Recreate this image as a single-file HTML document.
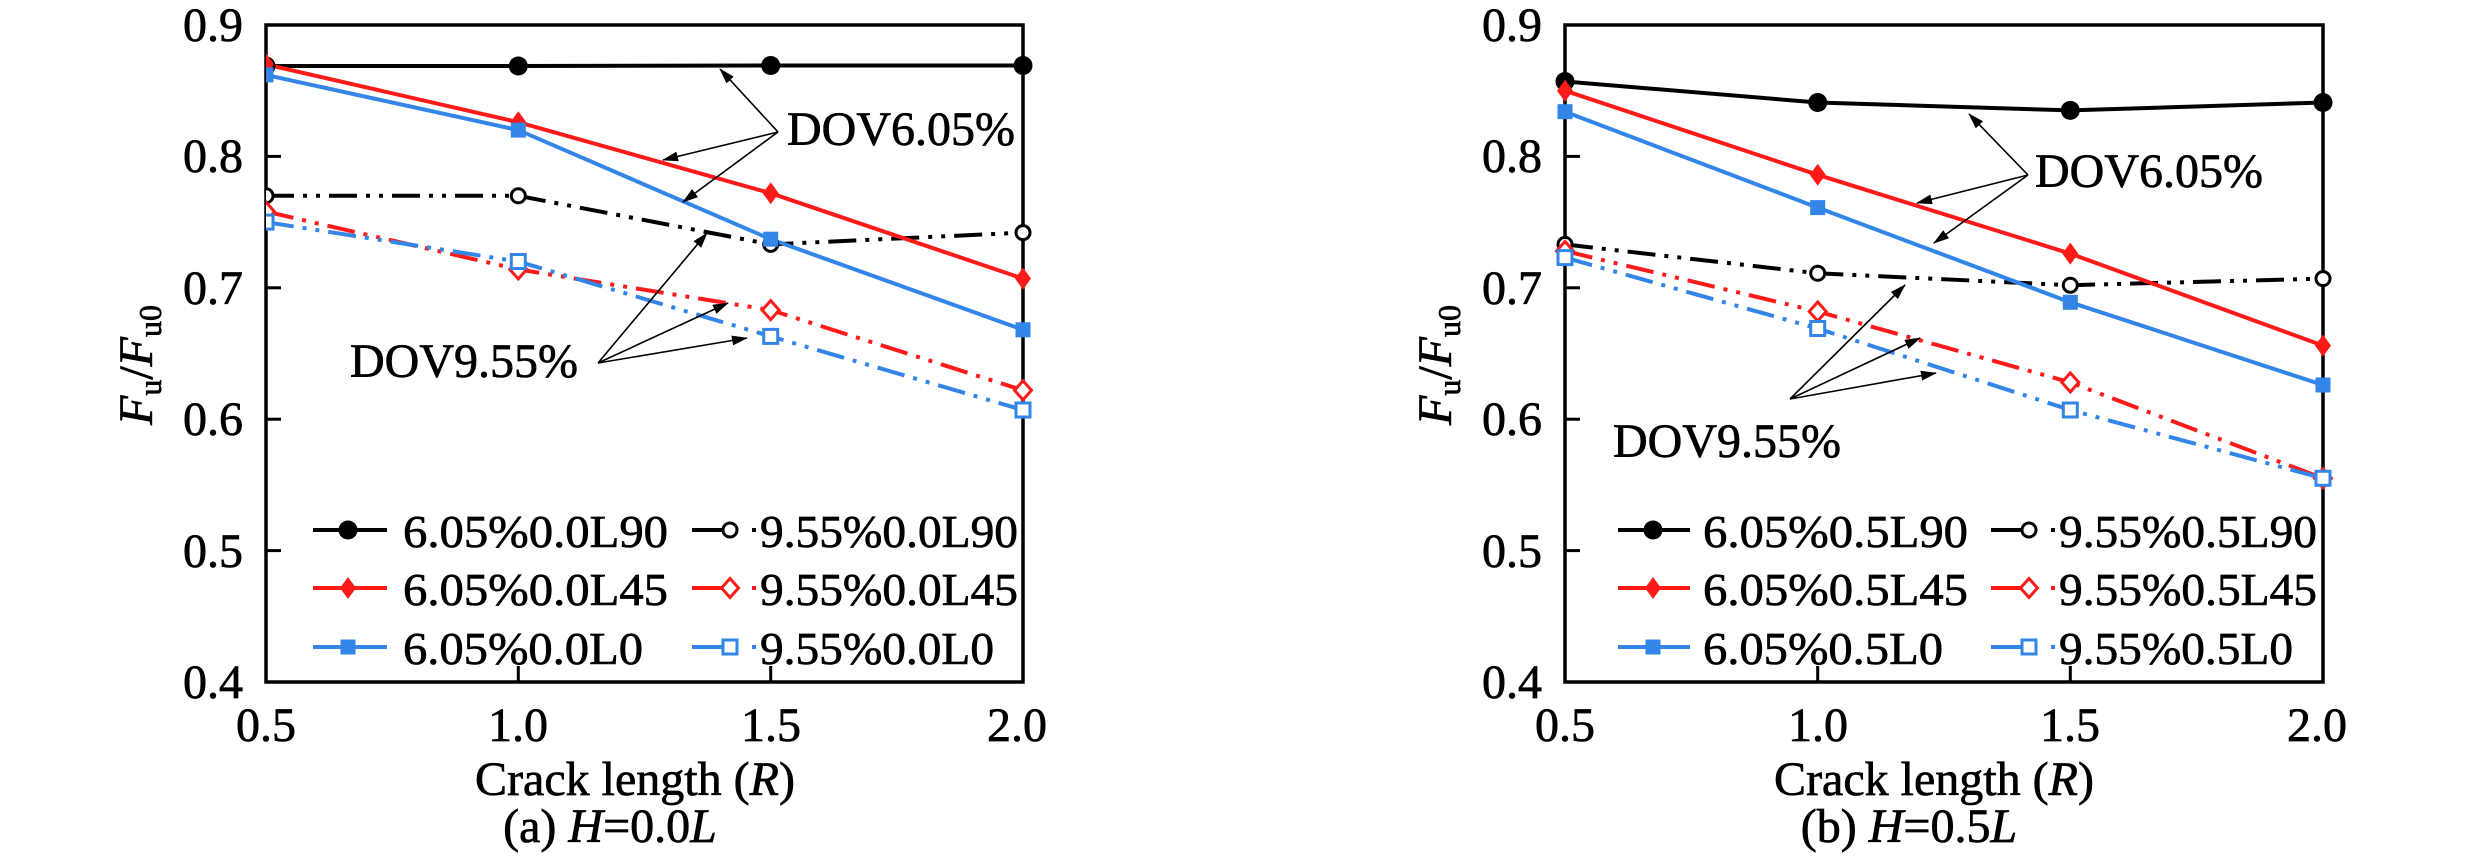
<!DOCTYPE html>
<html>
<head>
<meta charset="utf-8">
<style>
html,body{margin:0;padding:0;background:#fff;font-family:"Liberation Serif","Times New Roman",serif;}
svg{display:block;}
svg text, svg tspan{font-family:"Liberation Serif","Times New Roman",serif;}
text{fill:#000;stroke:#000;stroke-width:0.7px;}
</style>
</head>
<body>
<svg width="2482" height="867" viewBox="0 0 2482 867" xmlns="http://www.w3.org/2000/svg" font-family="Liberation Serif, Times New Roman, serif">
<defs>
  <marker id="ah" viewBox="0 0 16 10" refX="15" refY="5" markerWidth="16" markerHeight="10" markerUnits="userSpaceOnUse" orient="auto">
    <path d="M0,0 L16,5 L0,10 Z" fill="#000"/>
  </marker>
  <circle id="fc" r="9.5" fill="#000"/>
  <polygon id="fd" points="0,-11 8,0 0,11 -8,0" fill="#ff1a1a"/>
  <rect id="fs" x="-7.5" y="-7.5" width="15" height="15" fill="#3385e8"/>
  <circle id="oc" r="7" fill="#fff" stroke="#000" stroke-width="3"/>
  <polygon id="od" points="0,-9.5 8.5,0 0,9.5 -8.5,0" fill="#fff" stroke="#ff1a1a" stroke-width="3"/>
  <rect id="os" x="-7" y="-7" width="14" height="14" fill="#fff" stroke="#3385e8" stroke-width="3"/>
  <clipPath id="clipL"><rect x="266" y="0" width="900" height="867"/></clipPath>
</defs>

<!-- ================= LEFT PLOT ================= -->
<g>
  <g font-size="48" text-anchor="end">
    <text x="243" y="41"><tspan>0.9</tspan></text>
    <text x="243" y="172"><tspan>0.8</tspan></text>
    <text x="243" y="304"><tspan>0.7</tspan></text>
    <text x="243" y="435"><tspan>0.6</tspan></text>
    <text x="243" y="567"><tspan>0.5</tspan></text>
    <text x="243" y="698"><tspan>0.4</tspan></text>
  </g>
  <g font-size="48" text-anchor="middle">
    <text x="266" y="741"><tspan>0.5</tspan></text>
    <text x="518" y="741"><tspan>1.0</tspan></text>
    <text x="771" y="741"><tspan>1.5</tspan></text>
    <text x="1017" y="741"><tspan>2.0</tspan></text>
  </g>
  <text x="635" y="795" font-size="48" text-anchor="middle"><tspan>Crack length (</tspan><tspan font-style="italic">R</tspan><tspan>)</tspan></text>
  <text x="610" y="842" font-size="48" text-anchor="middle"><tspan>(a) </tspan><tspan font-style="italic">H</tspan><tspan>=0.0</tspan><tspan font-style="italic">L</tspan></text>
  <text transform="translate(152,365) rotate(-90)" font-size="48" text-anchor="middle"><tspan font-style="italic">F</tspan><tspan font-size="32" dy="9">u</tspan><tspan dy="-9">/</tspan><tspan font-style="italic">F</tspan><tspan font-size="32" dy="9">u0</tspan></text>

  <rect x="266" y="25" width="757" height="657" fill="none" stroke="#000" stroke-width="3.5"/>
  <g stroke="#000" stroke-width="3">
    <line x1="266" y1="156.4" x2="281" y2="156.4"/>
    <line x1="266" y1="287.8" x2="281" y2="287.8"/>
    <line x1="266" y1="419.2" x2="281" y2="419.2"/>
    <line x1="266" y1="550.6" x2="281" y2="550.6"/>
    <line x1="518.3" y1="682" x2="518.3" y2="666"/>
    <line x1="770.7" y1="682" x2="770.7" y2="666"/>
  </g>

  <g clip-path="url(#clipL)">
  <g fill="none" stroke-width="4" stroke-dasharray="28 9 4 9 4 9">
    <polyline stroke="#000" points="266,195.8 518.3,195.8 770.7,244.4 1023,232.6"/>
    <polyline stroke="#ff1a1a" points="266,211.6 518.3,269.4 770.7,310.1 1023,390.3"/>
    <polyline stroke="#3385e8" points="266,222.1 518.3,261.5 770.7,336.4 1023,410"/>
  </g>
  <g fill="none" stroke-width="4">
    <polyline stroke="#000" points="266,66 518.3,66 770.7,65.5 1023,65.5"/>
    <polyline stroke="#ff1a1a" points="266,64.4 518.3,122.2 770.7,193.2 1023,278.6"/>
    <polyline stroke="#3385e8" points="266,74.9 518.3,130.1 770.7,239.2 1023,329.8"/>
  </g>
  <use href="#oc" x="266" y="195.8"/><use href="#oc" x="518.3" y="195.8"/><use href="#oc" x="770.7" y="244.4"/><use href="#oc" x="1023" y="232.6"/>
  <use href="#od" x="266" y="211.6"/><use href="#od" x="518.3" y="269.4"/><use href="#od" x="770.7" y="310.1"/><use href="#od" x="1023" y="390.3"/>
  <use href="#os" x="266" y="222.1"/><use href="#os" x="518.3" y="261.5"/><use href="#os" x="770.7" y="336.4"/><use href="#os" x="1023" y="410"/>
  <use href="#fc" x="266" y="66"/><use href="#fc" x="518.3" y="66"/><use href="#fc" x="770.7" y="65.5"/><use href="#fc" x="1023" y="65.5"/>
  <use href="#fd" x="266" y="64.4"/><use href="#fd" x="518.3" y="122.2"/><use href="#fd" x="770.7" y="193.2"/><use href="#fd" x="1023" y="278.6"/>
  <use href="#fs" x="266" y="74.9"/><use href="#fs" x="518.3" y="130.1"/><use href="#fs" x="770.7" y="239.2"/><use href="#fs" x="1023" y="329.8"/>
  </g>

  <text x="787" y="145" font-size="48"><tspan>DOV6.05%</tspan></text>
  <g stroke="#000" stroke-width="1.6" marker-end="url(#ah)">
    <line x1="778" y1="132" x2="720" y2="69"/>
    <line x1="778" y1="132" x2="663" y2="160"/>
    <line x1="778" y1="132" x2="683" y2="202"/>
  </g>
  <text x="350" y="377" font-size="48"><tspan>DOV9.55%</tspan></text>
  <g stroke="#000" stroke-width="1.6" marker-end="url(#ah)">
    <line x1="598" y1="363" x2="707" y2="233"/>
    <line x1="598" y1="363" x2="728" y2="303"/>
    <line x1="598" y1="363" x2="747" y2="338"/>
  </g>

  <g stroke-width="4">
    <line x1="313" y1="530" x2="387" y2="530" stroke="#000"/>
    <line x1="313" y1="588" x2="387" y2="588" stroke="#ff1a1a"/>
    <line x1="313" y1="647" x2="387" y2="647" stroke="#3385e8"/>
    <line x1="692" y1="530" x2="730" y2="530" stroke="#000"/>
    <line x1="752" y1="530" x2="756" y2="530" stroke="#000"/>
    <line x1="692" y1="588" x2="730" y2="588" stroke="#ff1a1a"/>
    <line x1="752" y1="588" x2="756" y2="588" stroke="#ff1a1a"/>
    <line x1="692" y1="647" x2="730" y2="647" stroke="#3385e8"/>
    <line x1="752" y1="647" x2="756" y2="647" stroke="#3385e8"/>
  </g>
  <use href="#fc" x="348" y="530"/><use href="#fd" x="348" y="588"/><use href="#fs" x="348" y="647"/>
  <use href="#oc" x="730" y="530"/><use href="#od" x="730" y="588"/><use href="#os" x="730" y="647"/>
  <g font-size="46">
    <text x="403" y="547" textLength="265" lengthAdjust="spacingAndGlyphs">6.05%0.0L90</text>
    <text x="403" y="605" textLength="265" lengthAdjust="spacingAndGlyphs">6.05%0.0L45</text>
    <text x="403" y="664" textLength="240" lengthAdjust="spacingAndGlyphs">6.05%0.0L0</text>
    <text x="760" y="547" textLength="258" lengthAdjust="spacingAndGlyphs">9.55%0.0L90</text>
    <text x="760" y="605" textLength="258" lengthAdjust="spacingAndGlyphs">9.55%0.0L45</text>
    <text x="760" y="664" textLength="234" lengthAdjust="spacingAndGlyphs">9.55%0.0L0</text>
  </g>
</g>

<!-- ================= RIGHT PLOT ================= -->
<g>
  <g font-size="48" text-anchor="end">
    <text x="1542" y="41"><tspan>0.9</tspan></text>
    <text x="1542" y="172"><tspan>0.8</tspan></text>
    <text x="1542" y="304"><tspan>0.7</tspan></text>
    <text x="1542" y="435"><tspan>0.6</tspan></text>
    <text x="1542" y="567"><tspan>0.5</tspan></text>
    <text x="1542" y="698"><tspan>0.4</tspan></text>
  </g>
  <g font-size="48" text-anchor="middle">
    <text x="1565" y="741"><tspan>0.5</tspan></text>
    <text x="1818" y="741"><tspan>1.0</tspan></text>
    <text x="2070" y="741"><tspan>1.5</tspan></text>
    <text x="2317" y="741"><tspan>2.0</tspan></text>
  </g>
  <text x="1934" y="795" font-size="48" text-anchor="middle"><tspan>Crack length (</tspan><tspan font-style="italic">R</tspan><tspan>)</tspan></text>
  <text x="1909" y="842" font-size="48" text-anchor="middle"><tspan>(b) </tspan><tspan font-style="italic">H</tspan><tspan>=0.5</tspan><tspan font-style="italic">L</tspan></text>
  <text transform="translate(1451,365) rotate(-90)" font-size="48" text-anchor="middle"><tspan font-style="italic">F</tspan><tspan font-size="32" dy="9">u</tspan><tspan dy="-9">/</tspan><tspan font-style="italic">F</tspan><tspan font-size="32" dy="9">u0</tspan></text>

  <rect x="1565" y="25" width="758" height="657" fill="none" stroke="#000" stroke-width="3.5"/>
  <g stroke="#000" stroke-width="3">
    <line x1="1565" y1="156.4" x2="1580" y2="156.4"/>
    <line x1="1565" y1="287.8" x2="1580" y2="287.8"/>
    <line x1="1565" y1="419.2" x2="1580" y2="419.2"/>
    <line x1="1565" y1="550.6" x2="1580" y2="550.6"/>
    <line x1="1817.7" y1="682" x2="1817.7" y2="666"/>
    <line x1="2070.3" y1="682" x2="2070.3" y2="666"/>
  </g>

  <g fill="none" stroke-width="4" stroke-dasharray="28 9 4 9 4 9">
    <polyline stroke="#000" points="1565,244.4 1817.7,273.3 2070.3,285.2 2323,278.6"/>
    <polyline stroke="#ff1a1a" points="1565,251 1817.7,311.5 2070.3,382.4 2323,478.3"/>
    <polyline stroke="#3385e8" points="1565,257.6 1817.7,328.5 2070.3,410 2323,478.3"/>
  </g>
  <g fill="none" stroke-width="4">
    <polyline stroke="#000" points="1565,81.5 1817.7,102.5 2070.3,110.4 2323,102.5"/>
    <polyline stroke="#ff1a1a" points="1565,90.7 1817.7,174.8 2070.3,253.6 2323,345.6"/>
    <polyline stroke="#3385e8" points="1565,111.7 1817.7,207.6 2070.3,302.3 2323,385"/>
  </g>
  <use href="#oc" x="1565" y="244.4"/><use href="#oc" x="1817.7" y="273.3"/><use href="#oc" x="2070.3" y="285.2"/><use href="#oc" x="2323" y="278.6"/>
  <use href="#od" x="1565" y="251"/><use href="#od" x="1817.7" y="311.5"/><use href="#od" x="2070.3" y="382.4"/><use href="#od" x="2323" y="478.3"/>
  <use href="#os" x="1565" y="257.6"/><use href="#os" x="1817.7" y="328.5"/><use href="#os" x="2070.3" y="410"/><use href="#os" x="2323" y="478.3"/>
  <use href="#fc" x="1565" y="81.5"/><use href="#fc" x="1817.7" y="102.5"/><use href="#fc" x="2070.3" y="110.4"/><use href="#fc" x="2323" y="102.5"/>
  <use href="#fd" x="1565" y="90.7"/><use href="#fd" x="1817.7" y="174.8"/><use href="#fd" x="2070.3" y="253.6"/><use href="#fd" x="2323" y="345.6"/>
  <use href="#fs" x="1565" y="111.7"/><use href="#fs" x="1817.7" y="207.6"/><use href="#fs" x="2070.3" y="302.3"/><use href="#fs" x="2323" y="385"/>

  <text x="2035" y="187" font-size="48"><tspan>DOV6.05%</tspan></text>
  <g stroke="#000" stroke-width="1.6" marker-end="url(#ah)">
    <line x1="2028" y1="175" x2="1969" y2="114"/>
    <line x1="2028" y1="175" x2="1917" y2="203"/>
    <line x1="2028" y1="175" x2="1934" y2="243"/>
  </g>
  <text x="1613" y="457" font-size="48"><tspan>DOV9.55%</tspan></text>
  <g stroke="#000" stroke-width="1.6" marker-end="url(#ah)">
    <line x1="1790" y1="399" x2="1905" y2="285"/>
    <line x1="1790" y1="399" x2="1920" y2="338"/>
    <line x1="1790" y1="399" x2="1936" y2="373"/>
  </g>

  <g stroke-width="4">
    <line x1="1618" y1="530" x2="1690" y2="530" stroke="#000"/>
    <line x1="1618" y1="588" x2="1690" y2="588" stroke="#ff1a1a"/>
    <line x1="1618" y1="647" x2="1690" y2="647" stroke="#3385e8"/>
    <line x1="1991" y1="530" x2="2029" y2="530" stroke="#000"/>
    <line x1="2051" y1="530" x2="2055" y2="530" stroke="#000"/>
    <line x1="1991" y1="588" x2="2029" y2="588" stroke="#ff1a1a"/>
    <line x1="2051" y1="588" x2="2055" y2="588" stroke="#ff1a1a"/>
    <line x1="1991" y1="647" x2="2029" y2="647" stroke="#3385e8"/>
    <line x1="2051" y1="647" x2="2055" y2="647" stroke="#3385e8"/>
  </g>
  <use href="#fc" x="1653" y="530"/><use href="#fd" x="1653" y="588"/><use href="#fs" x="1653" y="647"/>
  <use href="#oc" x="2029" y="530"/><use href="#od" x="2029" y="588"/><use href="#os" x="2029" y="647"/>
  <g font-size="46">
    <text x="1703" y="547" textLength="265" lengthAdjust="spacingAndGlyphs">6.05%0.5L90</text>
    <text x="1703" y="605" textLength="265" lengthAdjust="spacingAndGlyphs">6.05%0.5L45</text>
    <text x="1703" y="664" textLength="240" lengthAdjust="spacingAndGlyphs">6.05%0.5L0</text>
    <text x="2059" y="547" textLength="258" lengthAdjust="spacingAndGlyphs">9.55%0.5L90</text>
    <text x="2059" y="605" textLength="258" lengthAdjust="spacingAndGlyphs">9.55%0.5L45</text>
    <text x="2059" y="664" textLength="234" lengthAdjust="spacingAndGlyphs">9.55%0.5L0</text>
  </g>
</g>
</svg>
</body>
</html>
